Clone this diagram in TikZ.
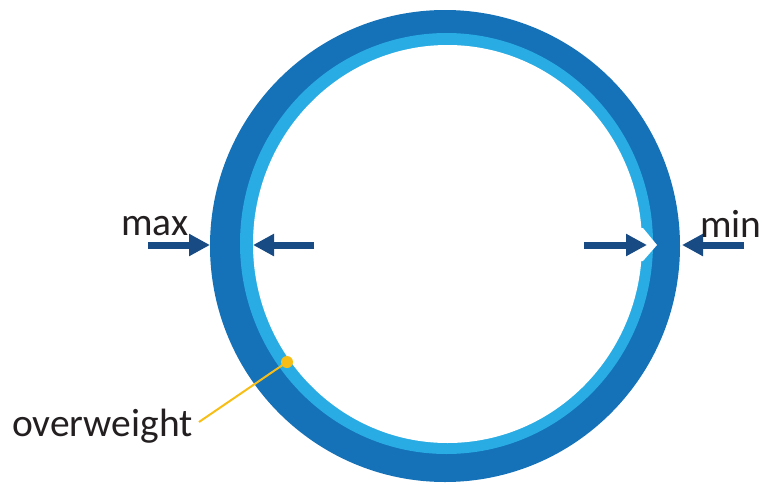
\documentclass[tikz,border=0pt]{standalone}
\usepackage{fontspec}
\setmainfont{Carlito}
\usetikzlibrary{arrows.meta}
\definecolor{darkring}{HTML}{1571B8}
\definecolor{lightring}{HTML}{29ACE3}
\definecolor{arrowblue}{HTML}{184B84}
\definecolor{gold}{HTML}{F6BE16}
\definecolor{textgray}{HTML}{231F20}
\tikzset{
  fatarrow/.style={draw=arrowblue, line width=7pt, -{Triangle[length=21pt,width=21pt]}},
  lbl/.style={anchor=base west, inner sep=0pt, text=textgray, font=\fontsize{39.5}{41}\selectfont},
}
\begin{document}
\begin{tikzpicture}[x=1pt,y=-1pt]
\useasboundingbox (0,0) rectangle (764,485);
% rings
\fill[darkring] (445,246) ellipse [x radius=235, y radius=236];
\fill[lightring] (446.5,243.5) ellipse [x radius=206.5, y radius=210.5];
\fill[white] (447.5,244) ellipse [x radius=194.5, y radius=199];
\fill[white] (630,228) -- (643,228) -- (657,245) -- (643,261) -- (630,261) -- cycle;
% arrows
\coordinate (maxS) at (148,245);
\coordinate (maxT) at (210,245);
\coordinate (maxS2) at (314,245);
\coordinate (maxT2) at (253,245);
\coordinate (minS) at (584,245);
\coordinate (minT) at (647,245);
\coordinate (minS2) at (744,245);
\coordinate (minT2) at (682,245);
\draw[fatarrow] (maxS) -- (maxT);
\draw[fatarrow] (maxS2) -- (maxT2);
\draw[fatarrow] (minS) -- (minT);
\draw[fatarrow] (minS2) -- (minT2);
% labels
\node[lbl] (max) at (121,235) {max};
\node[lbl] (min) at (700,237) {min};
\node[lbl] (ow) at (12,436) {overweight};
% overweight marker
\node[circle, fill=gold, inner sep=0pt, minimum size=12pt] (dot) at (287,362) {};
\coordinate (lineEnd) at (199,422);
\draw[gold, line width=2pt] (dot.center) -- (lineEnd);
\end{tikzpicture}
\end{document}
